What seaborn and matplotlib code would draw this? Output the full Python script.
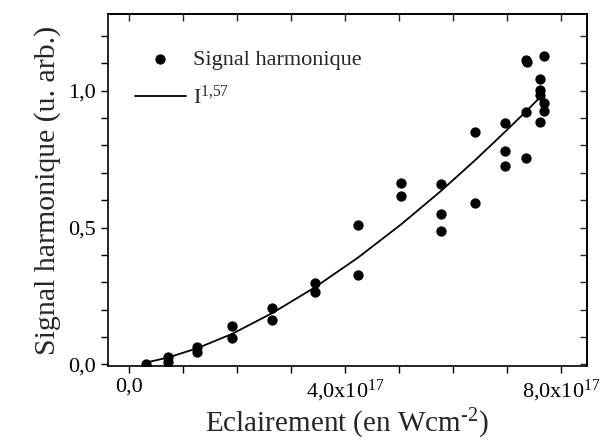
import numpy as np
import pandas as pd
import matplotlib
matplotlib.use("Agg")
import matplotlib.pyplot as plt
import seaborn as sns
from matplotlib.ticker import MultipleLocator, FixedLocator

# data (x in units of 1e17 W/cm2)
eclairement = [0.33, 0.73, 0.73, 1.27, 1.27, 1.92, 1.92, 2.66, 2.66, 3.44, 3.44,
               4.24, 4.24, 5.04, 5.04, 5.77, 5.77, 5.77, 6.41, 6.41,
               6.96, 6.96, 6.96, 7.35, 7.35, 7.35, 7.36,
               7.60, 7.60, 7.60, 7.60, 7.68, 7.68, 7.68]
signal = [0.003, 0.027, 0.008, 0.065, 0.046, 0.139, 0.097, 0.205, 0.162, 0.297, 0.266,
          0.510, 0.328, 0.663, 0.614, 0.659, 0.551, 0.489, 0.851, 0.588,
          0.882, 0.781, 0.726, 1.111, 0.921, 0.754, 1.106,
          1.043, 1.002, 0.985, 0.884, 1.126, 0.957, 0.925]

# fitted curve I^1,57, read at the measured intensities
fit_x = [0.33, 0.73, 1.27, 1.92, 2.66, 3.44, 4.24, 5.04, 5.77, 6.41, 6.96, 7.35, 7.60]
fit_y = [0.007, 0.025, 0.059, 0.112, 0.188, 0.281, 0.390, 0.512, 0.633, 0.747, 0.850, 0.925, 0.975]

xticks = [0, 4, 8]
xticklabels = ["0,0", "4,0x10$^{17}$", "8,0x10$^{17}$"]
yticks = [0.0, 0.5, 1.0]
yticklabels = ["0,0", "0,5", "1,0"]

df = pd.DataFrame({"x": eclairement, "y": signal})
fit = pd.DataFrame({"x": fit_x, "y": fit_y})

sns.set_style("ticks")
plt.rcParams["font.family"] = ["Liberation Serif", "DejaVu Serif"]
plt.rcParams["mathtext.fontset"] = "custom"
plt.rcParams["mathtext.rm"] = "Liberation Serif"
plt.rcParams["mathtext.it"] = "Liberation Serif:italic"

fig = plt.figure(figsize=(6, 4.41), dpi=100)
ax = fig.add_axes([0.18, 0.170, 0.798, 0.798])

sns.scatterplot(data=df, x="x", y="y", ax=ax, color="black", s=55,
                edgecolor="black", linewidth=0, label="Signal harmonique", zorder=3)
sns.lineplot(data=fit, x="x", y="y", ax=ax, color="black", linewidth=1.3,
             label="I$^{1{,}57}$", sort=True)

ax.set_xlim(-0.38, 8.47)
ax.set_ylim(-0.006, 1.28)

ax.xaxis.set_major_locator(FixedLocator(xticks))
ax.set_xticklabels(xticklabels)
ax.xaxis.set_minor_locator(MultipleLocator(1))
ax.yaxis.set_major_locator(FixedLocator(yticks))
ax.set_yticklabels(yticklabels)
ax.yaxis.set_minor_locator(MultipleLocator(0.1))
ax.tick_params(which="both", direction="out", length=5, width=1, labelsize=16,
               color="black", labelcolor="black")

# mirrored inward ticks on top and right
top = ax.secondary_xaxis("top")
top.xaxis.set_major_locator(FixedLocator(xticks))
top.xaxis.set_minor_locator(MultipleLocator(1))
top.tick_params(which="both", direction="in", length=5, width=1, labeltop=False)
right = ax.secondary_yaxis("right")
right.yaxis.set_major_locator(FixedLocator(yticks))
right.yaxis.set_minor_locator(MultipleLocator(0.1))
right.tick_params(which="both", direction="in", length=5, width=1, labelright=False)

for a in (ax, top, right):
    for sp in a.spines.values():
        sp.set_linewidth(1.2)
        sp.set_color("black")

ax.set_xlabel(r"Eclairement (en Wcm$^{\text{-2}}$)", fontsize=21, labelpad=2)
ax.set_ylabel("Signal harmonique (u. arb.)", fontsize=21.5, labelpad=5)

ax.legend(loc="upper left", bbox_to_anchor=(0.056, 0.90), frameon=False,
          fontsize=16, handlelength=2.3, handletextpad=0.3, borderpad=0,
          borderaxespad=0, labelspacing=0.7, markerscale=1.0)

fig.savefig("out.png", dpi=100)
